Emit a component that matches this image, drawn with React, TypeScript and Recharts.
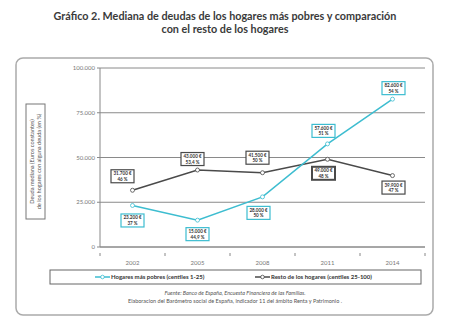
import { LineChart, Line, XAxis, YAxis, CartesianGrid, LabelList } from 'recharts'

const years = ['2002', '2005', '2008', '2011', '2014']
const pobres = [23200, 15000, 28000, 57600, 82600]
const resto = [31700, 43000, 41500, 49000, 39900]
const pobresPct = ['37 %', '44,9 %', '50 %', '51 %', '54 %']
const restoPct = ['46 %', '53,4 %', '50 %', '48 %', '47 %']
const yTicks = [0, 25000, 50000, 75000, 100000]

const CYAN = '#3dbdd0'
const DARK = '#4a4a4a'

// where each value box sits relative to its point
const pobresBox = [
  { dx: 0, dy: 15 },
  { dx: 0, dy: 14 },
  { dx: -4, dy: 16 },
  { dx: -4, dy: -13 },
  { dx: 1, dy: -11 },
]
const restoBox = [
  { dx: -10, dy: -14 },
  { dx: -5, dy: -11 },
  { dx: -5, dy: -15 },
  { dx: -4, dy: 14 },
  { dx: 1, dy: 12 },
]

const data = years.map((year, i) => ({ year, pobres: pobres[i], resto: resto[i] }))

function fmt(n: number): string {
  return String(n).replace(/\B(?=(\d{3})+(?!\d))/g, '.')
}

function makeBox(values: number[], pcts: string[], pos: { dx: number; dy: number }[], color: string, thickIdx = -1) {
  return (props: any) => {
    const { x, y, value } = props
    let i = props.index
    if (i == null) i = values.indexOf(Number(value))
    if (x == null || y == null || i < 0) return null
    const cx = x + pos[i].dx
    const cy = y + pos[i].dy
    const w = 23
    const h = 13
    return (
      <g>
        <rect x={cx - w / 2} y={cy - h / 2} width={w} height={h} fill="#fff" stroke={color} strokeWidth={i === thickIdx ? 2 : 1.2} />
        <text x={cx} y={cy - 1} textAnchor="middle" fontSize={4.6} fontWeight="bold" fill="#333" fontFamily="Lato, sans-serif">
          {fmt(values[i])} €
        </text>
        <text x={cx} y={cy + 4.5} textAnchor="middle" fontSize={4.6} fontWeight="bold" fill="#333" fontFamily="Lato, sans-serif">
          {pcts[i]}
        </text>
      </g>
    )
  }
}

function XTick(props: any) {
  const { x, y, payload, index } = props
  const half = 32.5
  return (
    <g>
      <line x1={x - half} x2={x - half} y1={y - 2} y2={y + 1} stroke="#888" />
      {index === years.length - 1 && <line x1={x + half} x2={x + half} y1={y - 2} y2={y + 1} stroke="#888" />}
      <text x={x} y={y + 10} textAnchor="middle" fontSize={6} fill="#777" fontFamily="Lato, sans-serif">
        {payload.value}
      </text>
    </g>
  )
}

export default function App() {
  return (
    <div style={{ position: 'relative', width: 450, height: 335, background: '#fff', fontFamily: 'Lato, sans-serif' }}>
      <style>{'body{margin:0}'}</style>
      <svg width={450} height={335} style={{ position: 'absolute', left: 0, top: 0 }}>
        <text x={225} y={20} textAnchor="middle" fontSize={10.8} fontWeight="bold" fill="#3a3a3a">
          Gráfico 2. Mediana de deudas de los hogares más pobres y comparación
        </text>
        <text x={225} y={33} textAnchor="middle" fontSize={10.8} fontWeight="bold" fill="#3a3a3a">
          con el resto de los hogares
        </text>
        <rect x={16} y={58} width={417} height={257} rx={7} fill="#fff" stroke="#aaa" strokeWidth={1.5} />
        <rect x={26} y={104} width={19} height={115} fill="none" stroke="#777" strokeWidth={1} />
        <g transform="translate(35.5,161.5) rotate(-90)">
          <text x={0} y={-2} textAnchor="middle" fontSize={5.6} fill="#555">Deuda mediana (Euros constantes)</text>
          <text x={0} y={5} textAnchor="middle" fontSize={5.6} fill="#555">de los hogares con alguna deuda (en %)</text>
        </g>
        <rect x={50} y={270} width={371} height={14} fill="none" stroke="#666" strokeWidth={1} />
        <line x1={95} x2={110} y1={277} y2={277} stroke={CYAN} strokeWidth={1.5} />
        <circle cx={102.5} cy={277} r={1.8} fill="#fff" stroke={CYAN} strokeWidth={0.8} />
        <text x={111} y={279} fontSize={6} fontWeight="bold" fill="#333">Hogares más pobres (centiles  1-25)</text>
        <line x1={255} x2={270} y1={277} y2={277} stroke={DARK} strokeWidth={1.5} />
        <circle cx={262.5} cy={277} r={1.8} fill="#fff" stroke={DARK} strokeWidth={0.8} />
        <text x={271} y={279} fontSize={6} fontWeight="bold" fill="#333">Resto de los hogares (centiles  25-100)</text>
        <text x={235} y={295} textAnchor="middle" fontSize={5.5} fontStyle="italic" fill="#555">
          Fuente: Banco de España, Encuesta Financiera de las Familias.
        </text>
        <text x={235} y={303} textAnchor="middle" fontSize={5.5} fill="#555">
          Elaboracion del Barómetro social de España, indicador 11 del ámbito Renta y Patrimonio .
        </text>
      </svg>
      <div style={{ position: 'absolute', left: 0, top: 0 }}>
        <LineChart width={450} height={335} data={data} margin={{ top: 68, right: 25, bottom: 58, left: 40 }}>
          <CartesianGrid vertical={false} stroke="#8a8a8a" strokeWidth={1} />
          <XAxis
            dataKey="year"
            height={30}
            stroke="#888"
            tickLine={false}
            tick={<XTick />}
            interval={0}
            padding={{ left: 32.5, right: 32.5 }}
          />
          <YAxis
            width={60}
            domain={[0, 100000]}
            ticks={yTicks}
            stroke="#888"
            tickSize={3}
            tick={{ fontSize: 6, fill: '#777', fontFamily: 'Lato, sans-serif' }}
            tickFormatter={(v: number) => fmt(v)}
          />
          <Line
            dataKey="resto"
            stroke={DARK}
            strokeWidth={1.5}
            dot={{ r: 2, fill: '#fff', stroke: DARK, strokeWidth: 0.8 }}
            isAnimationActive={false}
          >
            <LabelList dataKey="resto" content={makeBox(resto, restoPct, restoBox, DARK, 3)} />
          </Line>
          <Line
            dataKey="pobres"
            stroke={CYAN}
            strokeWidth={1.5}
            dot={{ r: 2, fill: '#fff', stroke: CYAN, strokeWidth: 0.8 }}
            isAnimationActive={false}
          >
            <LabelList dataKey="pobres" content={makeBox(pobres, pobresPct, pobresBox, CYAN)} />
          </Line>
        </LineChart>
      </div>
    </div>
  )
}
